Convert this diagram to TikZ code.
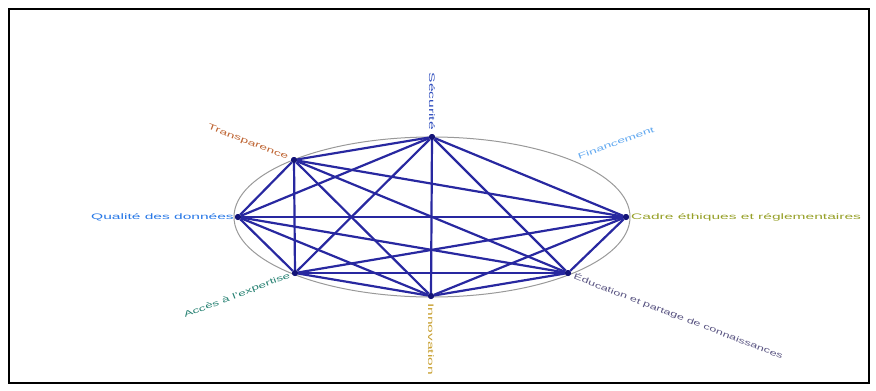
\documentclass[tikz,border=0pt]{standalone}
\usepackage{fontspec}
\setmainfont{Liberation Sans}
\usepackage{xcolor}
\usepackage{tikz}
\usetikzlibrary{positioning}

\definecolor{edgeblue}{RGB}{40,40,160}
\definecolor{dotblue}{RGB}{20,20,120}
\definecolor{cTop}{RGB}{50,80,190}
\definecolor{cLeft}{RGB}{40,120,230}
\definecolor{cTL}{RGB}{190,100,50}
\definecolor{cTR}{RGB}{100,170,240}
\definecolor{cRight}{RGB}{150,160,40}
\definecolor{cBL}{RGB}{40,130,115}
\definecolor{cBR}{RGB}{90,85,130}
\definecolor{cBot}{RGB}{200,160,50}
\newcommand{\wide}[2][1.95]{\scalebox{#1}[1]{#2}}

\begin{document}
\begin{tikzpicture}[
  x=1bp,y=-1bp,
  dot/.style={circle,fill=dotblue,inner sep=0pt,minimum size=6bp},
  edge/.style={draw=edgeblue,line width=2.2bp},
  lbl/.style={font=\fontsize{8}{9}\selectfont,inner sep=1bp}
]
\useasboundingbox (0,0) rectangle (876,390);
\draw[line width=1.5bp] (9,9) rectangle (869,383);
\draw[gray!80,line width=1bp] (432,217) ellipse [x radius=198, y radius=80];
% points on the ellipse
\node[dot] (p1) at (432,137) {};
\node[dot] (p2) at (294,160) {};
\node[dot] (p3) at (238,217) {};
\node[dot] (p4) at (295,273) {};
\node[dot] (p5) at (431,296) {};
\node[dot] (p6) at (568,273) {};
\node[dot] (p7) at (626,217) {};
\coordinate (q8) at (577,157);
% every pair
\foreach \i in {1,...,6} {
  \pgfmathtruncatemacro\j{\i+1}
  \foreach \k in {\j,...,7} {
    \draw[edge] (p\i) -- (p\k);
  }
}
\foreach \i in {1,...,7} {
  \node[dot] at (p\i) {};
}
% labels
\node[lbl,text=cTop,rotate=-90,anchor=east] (secu) at ([yshift=6bp]p1) {\wide{Sécurité}};
\node[lbl,text=cTL,rotate=-21,anchor=east] (transp) at ([xshift=-5bp,yshift=2bp]p2) {\wide[1.75]{Transparence}};
\node[lbl,text=cTR,rotate=20,anchor=west] (finan) at (q8) {\wide[1.75]{Financement}};
\node[lbl,text=cLeft,anchor=east] (qual) at ([xshift=-3bp]p3) {\wide{Qualité des données}};
\node[lbl,text=cRight,anchor=west] (cadre) at ([xshift=4bp]p7) {\wide{Cadre éthiques et réglementaires}};
\node[lbl,text=cBL,rotate=21,anchor=east] (acces) at ([xshift=-4bp,yshift=-2bp]p4) {\wide[1.7]{Accès à l'expertise}};
\node[lbl,text=cBR,rotate=-21,anchor=west] (educ) at ([xshift=5bp,yshift=-3bp]p6) {\wide[1.6]{Éducation et partage de connaissances}};
\node[lbl,text=cBot,rotate=-90,anchor=west] (innov) at ([yshift=-6bp]p5) {\wide{Innovation}};
\end{tikzpicture}
\end{document}
